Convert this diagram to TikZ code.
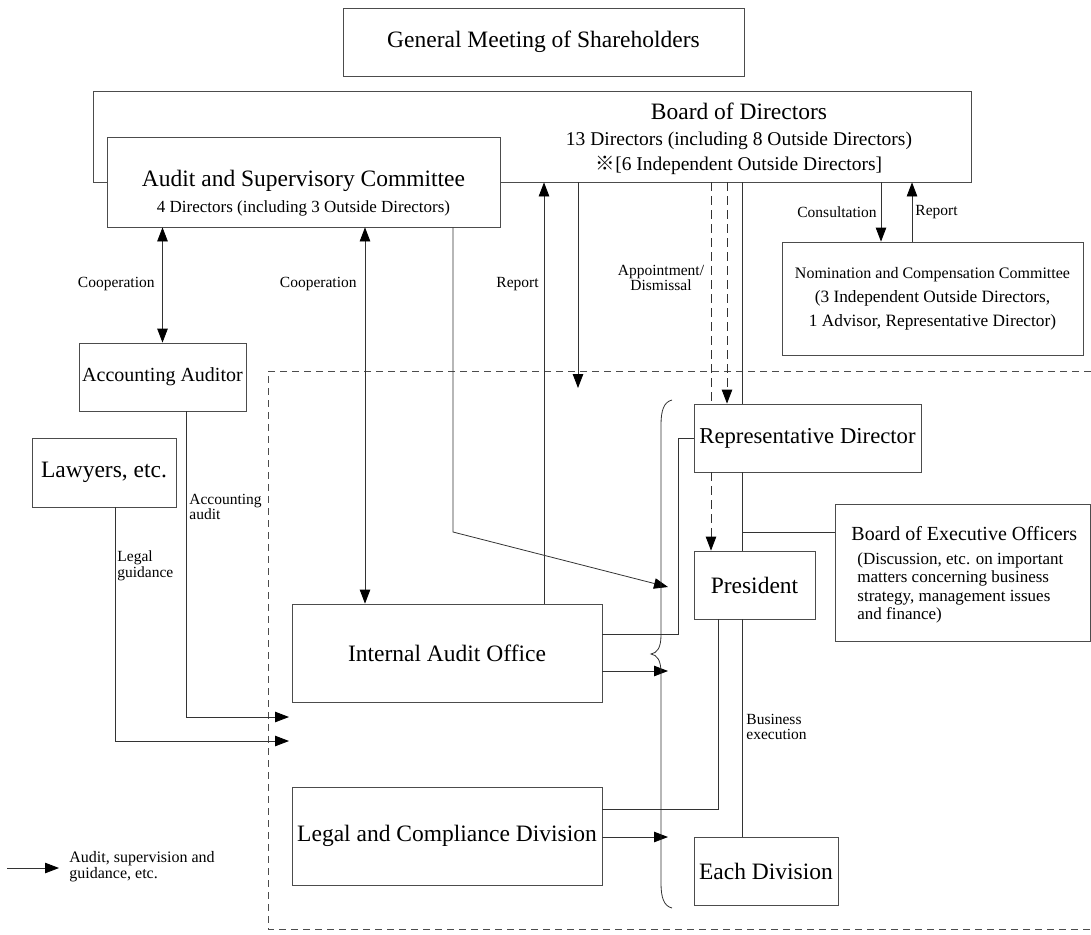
\documentclass[tikz,border=0pt]{standalone}
\usepackage{fontspec}
\setmainfont{Liberation Serif}
\newfontfamily\cjkfont{Noto Sans CJK JP}
\usetikzlibrary{arrows.meta}
\begin{document}
\begin{tikzpicture}[x=1pt, y=-1pt, line width=0.8pt,
	bx/.style={draw=black!70, fill=white, inner sep=0pt, align=center, font=\fontsize{23.5}{26}\selectfont},
	txt/.style={inner sep=0pt, align=center},
	lbl/.style={inner sep=0pt, align=left, font=\fontsize{15.5}{15.5}\selectfont},
	ln/.style={draw=black!80},
	arr/.style={draw=black!80, -{Triangle[length=14pt, width=10.5pt, color=black]}},
	both/.style={draw=black!80, {Triangle[length=14pt, width=10.5pt, color=black]}-{Triangle[length=14pt, width=10.5pt, color=black]}},
	dsh/.style={dash pattern=on 9pt off 5pt},
	zone/.style={draw=black!70, line width=0.7pt, dash pattern=on 7pt off 5pt}]
			\useasboundingbox (0,0) rectangle (1091,934);

			\draw[zone] (1091,371) -| (268,929) -- (1091,929);

			\node[bx, minimum width=401, minimum height=68] (gms) at (543.5,42) {General Meeting of Shareholders};
			\node[bx, minimum width=878, minimum height=91] (bod) at (532,136.5) {};
			\node[txt, font=\fontsize{19.5}{25.5}\selectfont] (bodtxt) at (739,139) {{\fontsize{23.5}{26}\selectfont Board of Directors}\\13 Directors (including 8 Outside Directors)\\{\cjkfont ※}[6 Independent Outside Directors]};
			\node[bx, minimum width=393, minimum height=90] (asc) at (303.5,182) {};
			\node[txt, font=\fontsize{17}{26}\selectfont] (asctxt) at (303.5,193) {{\fontsize{23.5}{26}\selectfont Audit and Supervisory Committee}\\4 Directors (including 3 Outside Directors)};
			\node[bx, minimum width=301, minimum height=113, font=\fontsize{17.3}{24}\selectfont] (nom) at (932.5,298.5) {{\fontsize{16}{24}\selectfont Nomination and Compensation Committee}\\(3 Independent Outside Directors,\\1 Advisor, Representative Director)};
			\node[bx, minimum width=167, minimum height=68, font=\fontsize{20}{24}\selectfont] (aa) at (162.5,377) {Accounting Auditor};
			\node[bx, minimum width=144, minimum height=69] (law) at (104,472.5) {Lawyers, etc.};
			\node[bx, minimum width=310, minimum height=98] (iao) at (447,653) {Internal Audit Office};
			\node[bx, minimum width=310, minimum height=98] (lcd) at (447,836) {Legal and Compliance Division};
			\node[bx, minimum width=227, minimum height=68, font=\fontsize{22.7}{26}\selectfont] (rep) at (807.5,438) {Representative Director};
			\node[bx, minimum width=121, minimum height=68] (pres) at (754.5,585) {President};
			\node[bx, minimum width=255, minimum height=137] (beo) at (962.5,572.5) {};
			\node[txt, anchor=west, font=\fontsize{20}{24}\selectfont] (beot) at (851,534) {Board of Executive Officers};
			\node[txt, anchor=west, align=left, font=\fontsize{17}{18.5}\selectfont] (beos) at (857,588) {(Discussion, etc. on important\\matters concerning business\\strategy, management issues\\and finance)};
			\node[bx, minimum width=144, minimum height=68] (div) at (766,871) {Each Division};

			\coordinate (dn) at (578,388);
			\coordinate (bend) at (453,532);
			\coordinate (bt) at (668,587);
			\coordinate (jn) at (742,532);
			\coordinate (iy) at (678,634);
			\coordinate (ly) at (718,809);
			\coordinate (t1) at (668,671);
			\coordinate (t2) at (668,837);
			\coordinate (t3) at (289,717);
			\coordinate (t4) at (289,741);
			\coordinate (k1) at (7,868);
			\coordinate (k2) at (59,868);

			\draw[both] (asc.south -| aa.north) -- (aa.north);
			\draw[both] (asc.south -| 365,0) -- (iao.north -| 365,0);
			\draw[arr] (iao.north -| 544,0) -- (bod.south -| 544,0);
			\draw[arr] (bod.south -| dn) -- (dn);
			\draw[arr] (asc.south -| bend) -- (bend) -- (bt);
			\draw[arr] (bod.south -| 881,0) -- (nom.north -| 881,0);
			\draw[arr] (nom.north -| 912,0) -- (bod.south -| 912,0);
			\draw[ln, dsh] (bod.south -| 711,0) -- (rep.north -| 711,0);
			\draw[arr, dsh] (bod.south -| 727,0) -- (rep.north -| 727,0);
			\draw[arr, dsh] (rep.south -| 711,0) -- (pres.north -| 711,0);
			\draw[ln] (bod.south -| jn) -- (rep.north -| jn);
			\draw[ln] (rep.south -| jn) -- (pres.north -| jn);
			\draw[ln] (pres.south -| jn) -- (div.north -| jn);
			\draw[ln] (jn) -- (beo.west |- jn);
			\draw[ln] (iao.east |- iy) -- (iy) |- (rep.west);
			\draw[ln] (lcd.east |- ly) -- (ly) -- (pres.south -| ly);
			\draw[arr] (iao.east |- t1) -- (t1);
			\draw[arr] (lcd.east |- t2) -- (t2);
			\draw[arr] (aa.south -| 186,0) |- (t3);
			\draw[arr] (law.south -| 115,0) |- (t4);
			\draw[arr] (k1) -- (k2);

			\draw[ln] (672,400) .. controls (664,402) and (661,410) .. (661,425) -- (661,635) .. controls (661,648) and (657,653) .. (651,654) .. controls (657,655) and (661,660) .. (661,673) -- (661,883) .. controls (661,898) and (664,906) .. (672,908);

			\node[lbl, anchor=east] (coop1) at (155,284) {Cooperation};
			\node[lbl, anchor=east] (coop2) at (357,284) {Cooperation};
			\node[lbl, anchor=east] (rep1) at (539,284) {Report};
			\node[lbl, align=center] (appt) at (661,278) {Appointment/\\Dismissal};
			\node[lbl, anchor=east] (cons) at (877,212) {Consultation};
			\node[lbl, anchor=west] (rep2) at (915,212) {Report};
			\node[lbl, anchor=west] (acc) at (189,507) {Accounting\\audit};
			\node[lbl, anchor=west] (legal) at (117,566) {Legal\\guidance};
			\node[lbl, anchor=west] (biz) at (746,727) {Business\\execution};
			\node[lbl, anchor=west, font=\fontsize{16}{16}\selectfont] (key) at (69,867) {Audit, supervision and\\guidance, etc.};
		\end{tikzpicture}
\end{document}
